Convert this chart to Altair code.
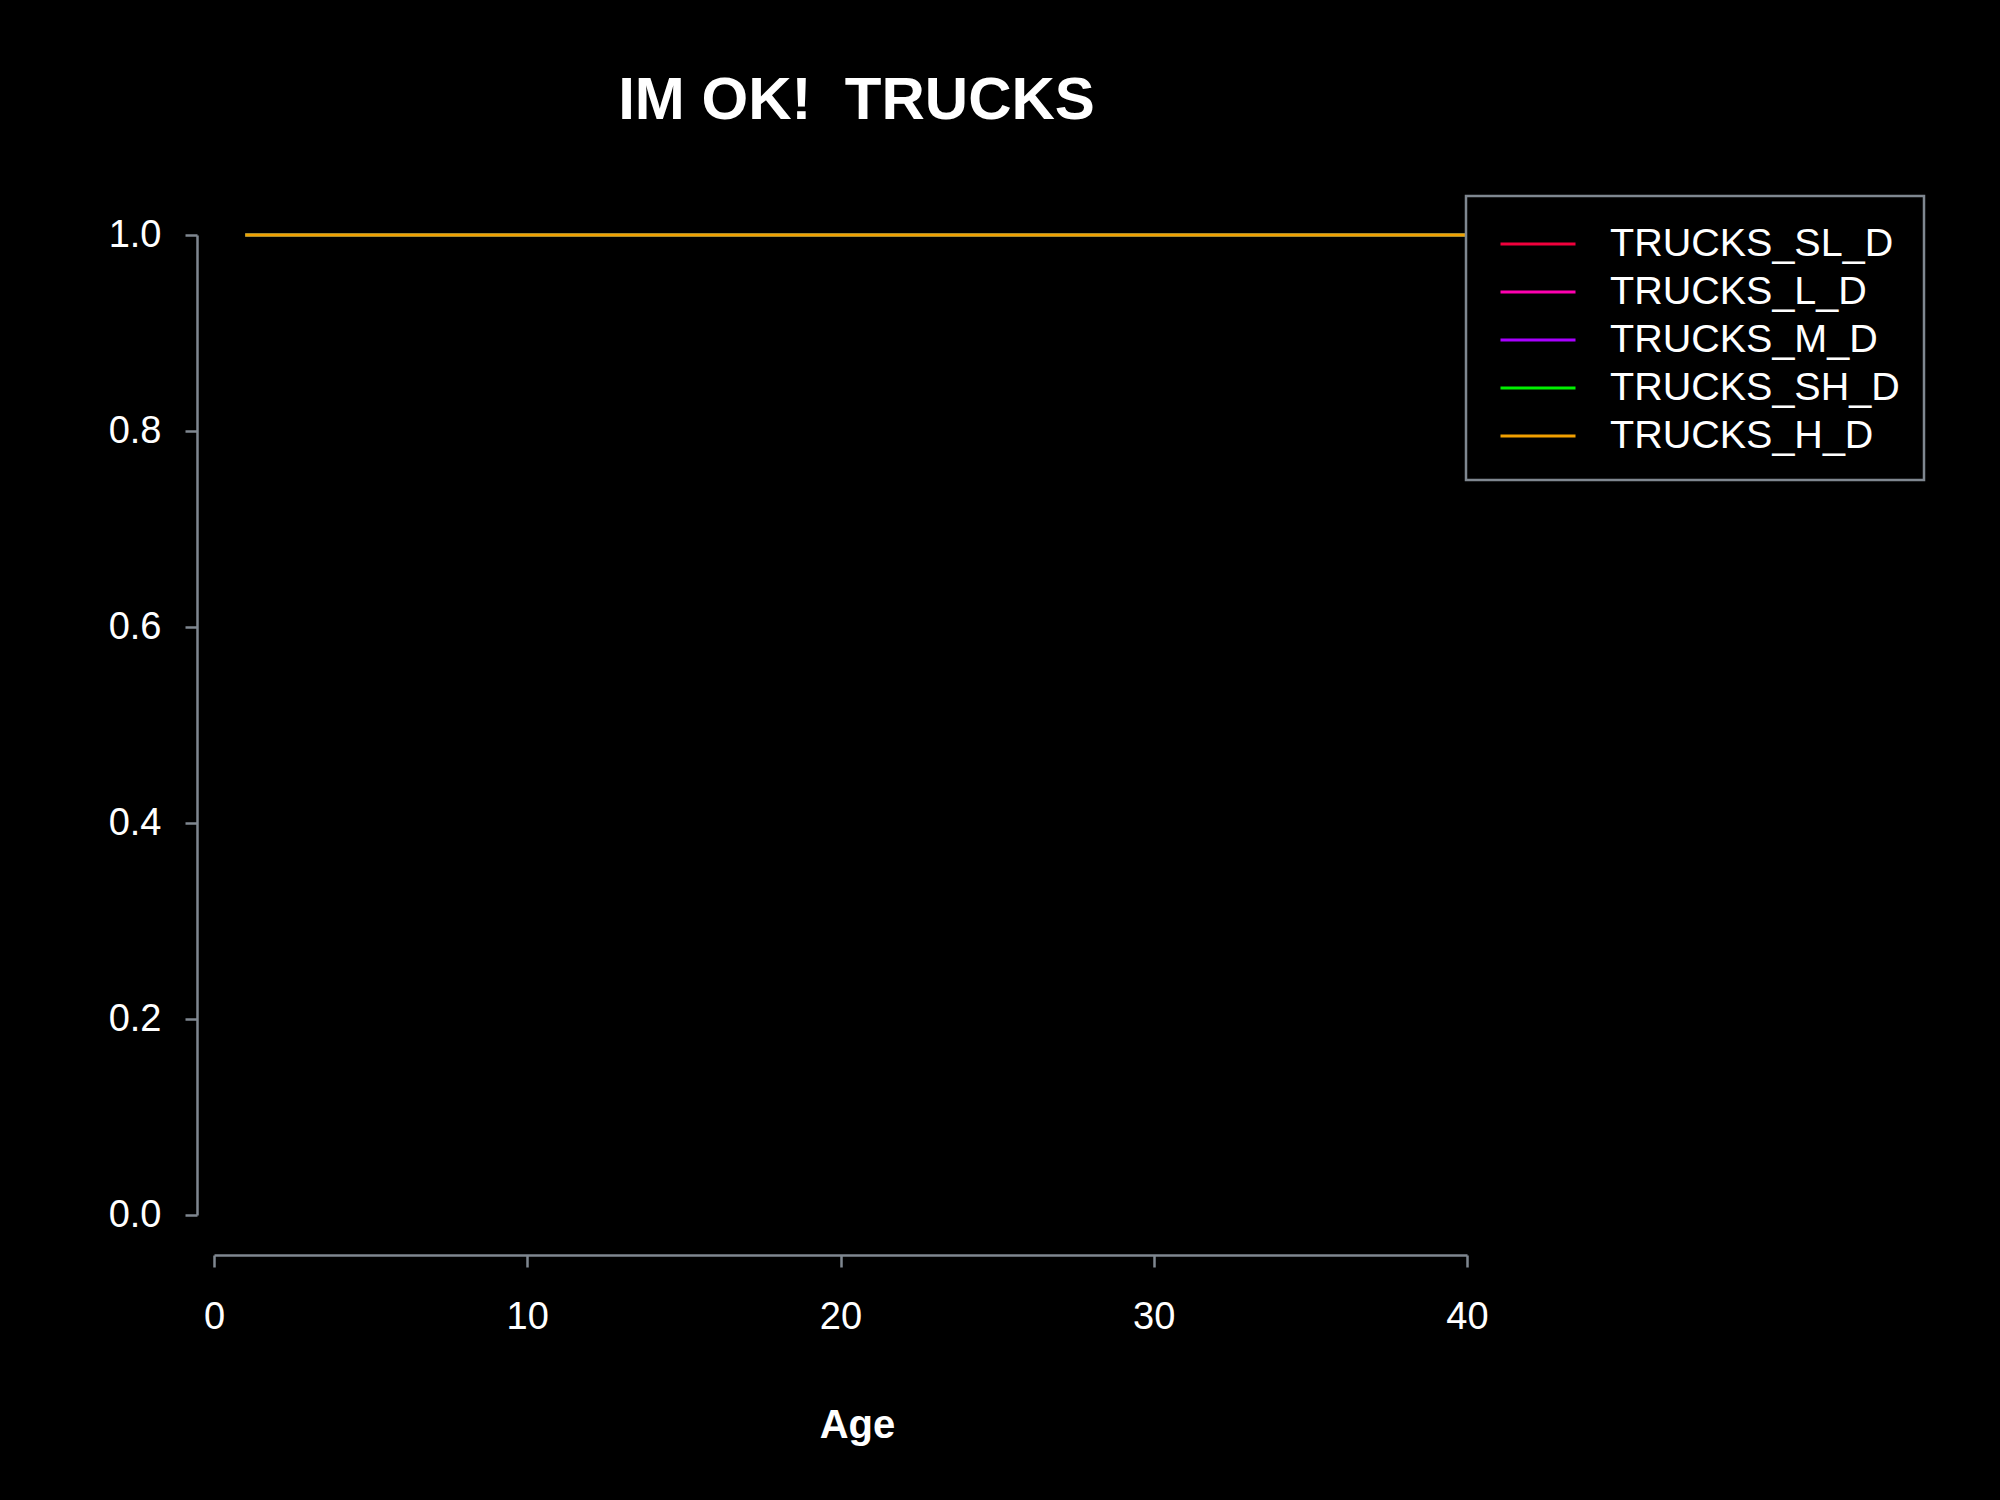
import altair as alt
import pandas as pd

series = ["TRUCKS_SL_D", "TRUCKS_L_D", "TRUCKS_M_D", "TRUCKS_SH_D", "TRUCKS_H_D"]
colors = ["#F0003C", "#FF00B0", "#A800FF", "#00F000", "#F2A000"]
ages = list(range(1, 41))
values = {
    "TRUCKS_SL_D": [1.0] * 40,
    "TRUCKS_L_D": [1.0] * 40,
    "TRUCKS_M_D": [1.0] * 40,
    "TRUCKS_SH_D": [1.0] * 40,
    "TRUCKS_H_D": [1.0] * 40,
}
x_ticks = [0, 10, 20, 30, 40]
y_ticks = [0.0, 0.2, 0.4, 0.6, 0.8, 1.0]

rows = []
for s in series:
    for a, v in zip(ages, values[s]):
        rows.append({"Age": a, "value": v, "series": s})
df = pd.DataFrame(rows)

FONT = "Liberation Sans"
GRAY = "#7f8790"

chart = alt.Chart(df).mark_line(strokeWidth=3).encode(
    x=alt.X("Age:Q", scale=alt.Scale(domain=[0, 40], nice=False, zero=False),
            axis=alt.Axis(values=x_ticks, format="d", title="Age", offset=40,
                          labelFlush=False,
                          titleX=643, titleY=182, titleAlign="center",
                          titleBaseline="alphabetic", titleAnchor="start")),
    y=alt.Y("value:Q", scale=alt.Scale(domain=[0, 1], nice=False),
            axis=alt.Axis(values=y_ticks, format=".1f", title=None, offset=17,
                          labelFlush=False)),
    color=alt.Color("series:N", scale=alt.Scale(domain=series, range=colors),
                    sort=series,
                    legend=alt.Legend(title=None, orient="none", legendX=1252, legendY=-39,
                                      symbolType="M-1.667,0H1.667", symbolSize=2025,
                                      symbolStrokeWidth=3, symbolOffset=24,
                                      labelOffset=48, labelFontSize=39.5, labelFont=FONT,
                                      labelColor="white", padding=24, rowPadding=4,
                                      strokeColor=GRAY, fillColor="black",
                                      labelLimit=600)),
    order=alt.Order("series:N"),
).properties(
    width=1253,
    height=980,
    title=alt.TitleParams("IM OK!\u00a0\u00a0TRUCKS", fontSize=60, font=FONT, fontWeight="bold",
                          color="white", anchor="middle", offset=63, dx=16),
    autosize=alt.AutoSizeParams(type="none"),
    padding={"left": 214, "top": 235, "right": 533, "bottom": 285},
).configure(
    background="black",
).configure_view(
    stroke=None,
).configure_legend(
    strokeWidth=2.5,
).configure_axis(
    grid=False,
    domainColor=GRAY,
    domainWidth=2.5,
    tickColor=GRAY,
    tickWidth=2.5,
    tickSize=12,
    labelColor="white",
    labelFont=FONT,
    labelFontSize=38,
    titleColor="white",
    titleFont=FONT,
    titleFontSize=40,
    titleFontWeight="bold",
).configure_axisX(
    labelPadding=31,
).configure_axisY(
    labelPadding=24,
)

chart.save("out.html", embed_options={"renderer": "svg", "actions": False})
